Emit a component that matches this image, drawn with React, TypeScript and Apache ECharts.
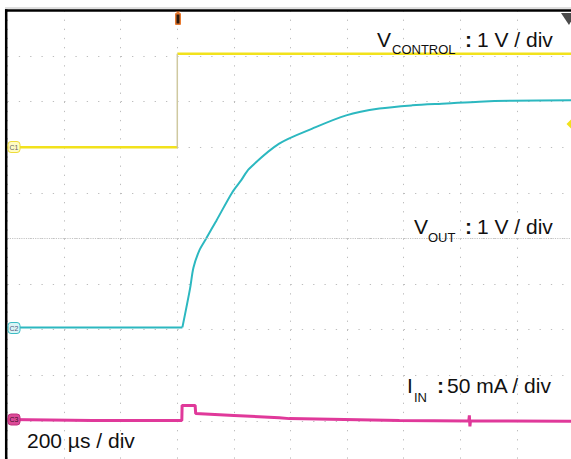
import React, { useEffect, useRef } from "react";
import * as echarts from "echarts";

// Horizontal: time in µs (200 µs / div), trigger at t = 0
const timeMin = -600;
const timeMax = 1400;
const timePerDiv = 200;
// Vertical: screen divisions
const divMin = -5;
const divMax = 5;

// V_CONTROL (yellow), 1 V / div
const vControlLowTime = [-600, 0];
const vControlLowDiv = [2.0, 2.0];
const vControlHighTime = [0, 1400];
const vControlHighDiv = [4.05, 4.05];
const vControlEdgeTime = [0, 0];
const vControlEdgeDiv = [2.0, 4.05];

// V_OUT (cyan), 1 V / div
const vOutFlatTime = [-600, 18];
const vOutFlatDiv = [-1.95, -1.95];
const vOutRiseTime = [18, 45, 57, 78, 102, 138, 194, 226, 254, 360, 477, 597, 714, 830, 951, 1067, 1184, 1400];
const vOutRiseDiv = [-1.95, -1.1, -0.64, -0.26, 0, 0.39, 1.01, 1.28, 1.53, 2.08, 2.41, 2.7, 2.85, 2.92, 2.96, 3.0, 3.02, 3.03];

// I_IN (magenta), 50 mA / div
const iInTime = [-600, -300, 16, 17, 63, 65, 200, 360, 396, 785, 1030, 1032, 1034, 1036, 1400];
const iInDiv = [-3.97, -3.99, -3.99, -3.66, -3.66, -3.84, -3.88, -3.93, -3.95, -3.99, -4.0, -3.88, -4.12, -4.0, -4.01];

const pair = (t: number[], v: number[]) => t.map((x, i) => [x, v[i]]);

const YELLOW = "#f2e21c";
const CYAN = "#2cb8c0";
const MAGENTA = "#e0399a";
const FONT = "'Liberation Sans', Arial, sans-serif";

export default function App() {
  const ref = useRef<HTMLDivElement>(null);
  useEffect(() => {
    if (!ref.current) return;
    const chart = echarts.init(ref.current, undefined, { renderer: "svg" });
    const big = 21;
    const sub = 13;
    const mid = (base: number, fs: number) => base - 0.3465 * fs;
    const txt = (text: string, x: number, base: number, fs: number, extra: any = {}) => ({
      type: "text",
      z: 100,
      x,
      y: mid(base, fs),
      style: { text, fontSize: fs, fontFamily: FONT, fill: "#111", verticalAlign: "middle", align: "left", ...extra },
    });
    const chMarker = (cy: number, fill: string, stroke: string, label: string, textFill: string) => ([
      { type: "rect", z: 90, shape: { x: 8, y: cy - 5.5, width: 12, height: 11, r: 3 }, style: { fill, stroke, lineWidth: 1 } },
      { type: "text", z: 91, x: 14, y: cy, style: { text: label, fontSize: 7, fontFamily: FONT, fill: textFill, align: "center", verticalAlign: "middle" } },
    ]);
    chart.setOption({
      animation: false,
      backgroundColor: "#ffffff",
      grid: { left: 7.5, top: 10.5, width: 566, height: 456, containLabel: false },
      xAxis: {
        type: "value",
        min: timeMin,
        max: timeMax,
        interval: timePerDiv,
        axisLine: { show: false },
        axisTick: { show: false },
        axisLabel: { show: false },
        splitLine: { show: true, lineStyle: { color: "#bdbdbd", width: 1, type: [1.3, 7.82] } },
      },
      yAxis: {
        type: "value",
        min: divMin,
        max: divMax,
        interval: 1,
        axisLine: { show: false },
        axisTick: { show: false },
        axisLabel: { show: false },
        splitLine: { show: true, lineStyle: { color: "#bdbdbd", width: 1, type: [1.3, 10.02] } },
      },
      series: [
        {
          type: "line",
          name: "center",
          data: [],
          silent: true,
          z: 1,
          markLine: {
            silent: true,
            symbol: "none",
            label: { show: false },
            lineStyle: { color: "#c4c4c4", width: 1, type: [1.2, 1.1] },
            data: [{ yAxis: 0 }],
          },
        },
        { type: "line", name: "VCONTROL low", data: pair(vControlLowTime, vControlLowDiv), showSymbol: false, lineStyle: { color: YELLOW, width: 2.5 }, z: 3 },
        { type: "line", name: "VCONTROL high", data: pair(vControlHighTime, vControlHighDiv), showSymbol: false, lineStyle: { color: YELLOW, width: 2.5 }, z: 3 },
        { type: "line", name: "VCONTROL edge", data: pair(vControlEdgeTime, vControlEdgeDiv), showSymbol: false, lineStyle: { color: "#cfc9a0", width: 1.5 }, z: 3 },
        { type: "line", name: "VOUT flat", data: pair(vOutFlatTime, vOutFlatDiv), showSymbol: false, lineStyle: { color: CYAN, width: 2 }, z: 4 },
        {
          type: "line",
          name: "VOUT rise",
          data: pair(vOutRiseTime, vOutRiseDiv),
          showSymbol: false,
          smooth: 0.3,
          lineStyle: { color: CYAN, width: 2 },
          z: 4,
        },
        { type: "line", name: "IIN", data: pair(iInTime, iInDiv), showSymbol: false, lineStyle: { color: MAGENTA, width: 3 }, z: 5 },
      ],
      graphic: [
        // screen frame
        { type: "line", z: 80, shape: { x1: 5, y1: 8, x2: 571, y2: 8 }, style: { stroke: "#c0c0c0", lineWidth: 1 } },
        { type: "line", z: 80, shape: { x1: 5, y1: 10.5, x2: 580, y2: 10.5 }, style: { stroke: "#000", lineWidth: 2.5 } },
        { type: "line", z: 80, shape: { x1: 6.2, y1: 9.3, x2: 6.2, y2: 470 }, style: { stroke: "#000", lineWidth: 2.5 } },
        // trigger position marker
        { type: "polygon", z: 85, shape: { points: [[175.5, 11.5], [180.5, 11.5], [178, 14]] }, style: { fill: "#e87a30" } },
        { type: "rect", z: 85, shape: { x: 175, y: 13, width: 6, height: 12, r: 1 }, style: { fill: "#e87a30" } },
        { type: "rect", z: 86, shape: { x: 176.5, y: 14.5, width: 3, height: 9 }, style: { fill: "#2a1a10" } },
        // top-right indicator
        { type: "polygon", z: 85, shape: { points: [[561, 13], [576, 13], [569, 25]] }, style: { fill: "#4a4a4a" } },
        // trigger level diamond
        { type: "polygon", z: 85, shape: { points: [[566.5, 124], [572.5, 118], [578.5, 124], [572.5, 130]] }, style: { fill: YELLOW } },
        // channel markers
        ...chMarker(147, "#fffbc4", "#eedc3a", "C1", "#666"),
        ...chMarker(328, "#d9f4f6", "#3cbcc4", "C2", "#557"),
        ...chMarker(419.5, "#dc4a98", "#c0307e", "C3", "#401028"),
        // labels
        txt("V", 377, 47, big),
        txt("CONTROL", 392, 54, sub),
        txt(":", 465, 47, big, { fontWeight: "bold" }),
        txt("1 V / div", 477, 47, big),
        txt("V", 414, 234, big),
        txt("OUT", 428, 242, sub),
        txt(":", 465, 234, big, { fontWeight: "bold" }),
        txt("1 V / div", 477, 234, big),
        txt("I", 407, 393, big),
        txt("IN", 414, 402, sub),
        txt(":", 437, 393, big, { fontWeight: "bold" }),
        txt("50 mA / div", 447, 393, big),
        txt("200 µs / div", 27, 448, big),
      ],
    });
    return () => chart.dispose();
  }, []);
  return (
    <div style={{ position: "absolute", left: 0, top: 0, width: 571, height: 459, overflow: "hidden", background: "#fff" }}>
      <div ref={ref} style={{ width: 590, height: 480 }} />
    </div>
  );
}
